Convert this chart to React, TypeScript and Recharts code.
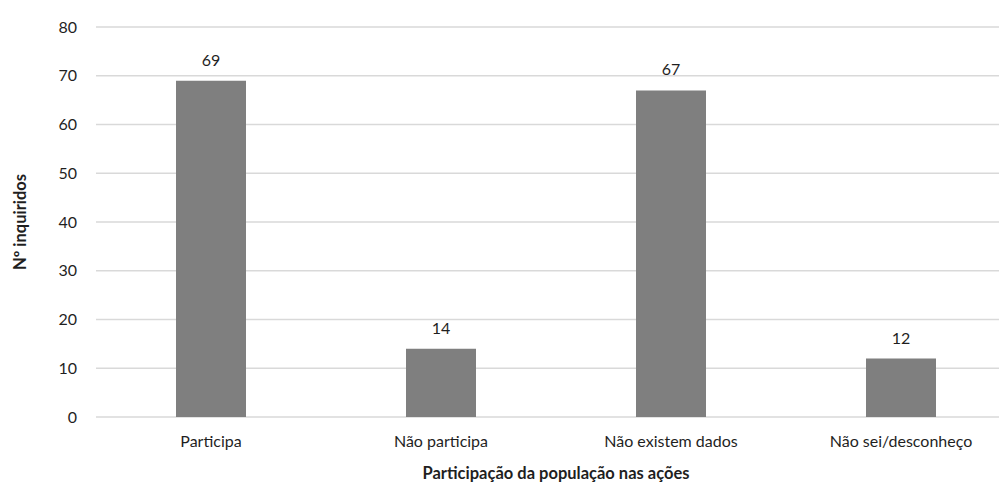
import { BarChart, Bar, XAxis, YAxis, CartesianGrid, LabelList } from 'recharts';

const categories = ['Participa', 'Não participa', 'Não existem dados', 'Não sei/desconheço'];
const respondents = [69, 14, 67, 12];
const yTicks = [0, 10, 20, 30, 40, 50, 60, 70, 80];

const data = categories.map((name, i) => ({ name, value: respondents[i] }));

const font = 'Lato, "Open Sans", sans-serif';
const textColor = '#1f1f1f';

export default function App() {
  return (
    <div style={{ width: 999, height: 479, overflow: 'hidden', fontFamily: font }}>
      <BarChart
        width={1020}
        height={479}
        data={data}
        margin={{ top: 19, right: 12, bottom: 0, left: 0 }}
        barCategoryGap={80}
      >
        <CartesianGrid horizontal vertical={false} stroke="#d9d9d9" strokeWidth={1.3} />
        <XAxis
          dataKey="name"
          height={70}
          axisLine={false}
          tickLine={false}
          tickSize={0}
          tickMargin={19}
          tick={{ fontSize: 16, fill: textColor, fontFamily: font }}
          label={{
            value: 'Participação da população nas ações',
            position: 'insideBottom',
            offset: 8,
            style: { fontSize: 16.5, fontWeight: 700, fill: textColor, fontFamily: font },
          }}
        />
        <YAxis
          width={88}
          domain={[0, 80]}
          ticks={yTicks}
          axisLine={false}
          tickLine={false}
          tickSize={0}
          tickMargin={19}
          tick={{ fontSize: 16, fill: textColor, fontFamily: font }}
          label={{
            value: 'Nº inquiridos',
            angle: -90,
            position: 'insideLeft',
            offset: 12,
            style: { textAnchor: 'middle', fontSize: 16.5, fontWeight: 700, fill: textColor, fontFamily: font },
          }}
        />
        <Bar dataKey="value" fill="#7f7f7f" isAnimationActive={false}>
          <LabelList
            dataKey="value"
            position="top"
            offset={15}
            style={{ fontSize: 16, fill: textColor, fontFamily: font }}
          />
        </Bar>
      </BarChart>
    </div>
  );
}
